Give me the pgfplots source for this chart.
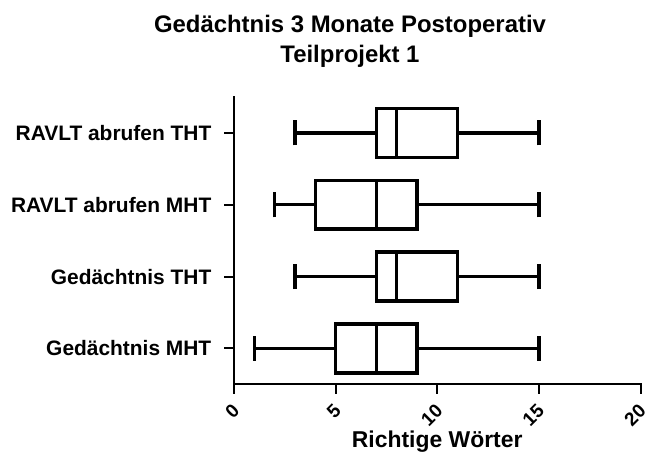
\documentclass[border=0pt]{standalone}
\usepackage{fontspec}
\setmainfont{Liberation Sans}
\usepackage{pgfplots}
\pgfplotsset{compat=1.18}
\usepgfplotslibrary{statistics}
\begin{document}
\begin{tikzpicture}
\path[use as bounding box] (-234bp,-68.7bp) rectangle (414bp,384.3bp);
\begin{axis}[
  at={(0,0)}, anchor=south west,
  scale only axis, width=406.5bp, height=287.3bp,
  xmin=0, xmax=20, ymin=0.5, ymax=4.5,
  axis x line*=bottom, axis y line*=left,
  axis line style={line width=2bp, -, line cap=rect},
  xtick={0,5,10,15,20}, ytick={1,2,3,4},
  yticklabels={Gedächtnis MHT, Gedächtnis THT, RAVLT abrufen MHT, RAVLT abrufen THT},
  tick align=outside, major tick length=9.5bp,
  tick style={line width=2bp, black},
  minor tick num=0,
  /pgf/number format/assume math mode=true,
  xticklabel style={xshift=2bp, yshift=-14bp, rotate=45, anchor=east, inner sep=0pt, font=\fontsize{19}{21}\selectfont\bfseries},
  yticklabel style={anchor=east, inner sep=0pt, xshift=-13bp, font=\fontsize{21}{24}\selectfont\bfseries},
  xlabel={Richtige Wörter},
  xlabel style={at={(axis description cs:0.5,0)}, anchor=base, yshift=-62.7bp, font=\fontsize{23}{26}\selectfont\bfseries},
  boxplot/draw direction=x,
  every boxplot/.style={black, fill=white, line width=3.5bp},
]
\addplot+[mark=none, black, fill=white, line width=3.5bp,
  boxplot prepared={lower whisker=1, lower quartile=5, median=7, upper quartile=9, upper whisker=15,
  draw position=1, box extend=0.68, whisker extend=0.35}] coordinates {};
\addplot+[mark=none, black, fill=white, line width=3.5bp,
  boxplot prepared={lower whisker=3, lower quartile=7, median=8, upper quartile=11, upper whisker=15,
  draw position=2, box extend=0.68, whisker extend=0.35}] coordinates {};
\addplot+[mark=none, black, fill=white, line width=3.5bp,
  boxplot prepared={lower whisker=2, lower quartile=4, median=7, upper quartile=9, upper whisker=15,
  draw position=3, box extend=0.68, whisker extend=0.35}] coordinates {};
\addplot+[mark=none, black, fill=white, line width=3.5bp,
  boxplot prepared={lower whisker=3, lower quartile=7, median=8, upper quartile=11, upper whisker=15,
  draw position=4, box extend=0.68, whisker extend=0.35}] coordinates {};
\end{axis}
\node[anchor=base, font=\fontsize{24}{28}\selectfont\bfseries] at (116bp,351.3bp) {Gedächtnis 3 Monate Postoperativ};
\node[anchor=base, font=\fontsize{24}{28}\selectfont\bfseries] at (116bp,321.3bp) {Teilprojekt 1};
\end{tikzpicture}
\end{document}
